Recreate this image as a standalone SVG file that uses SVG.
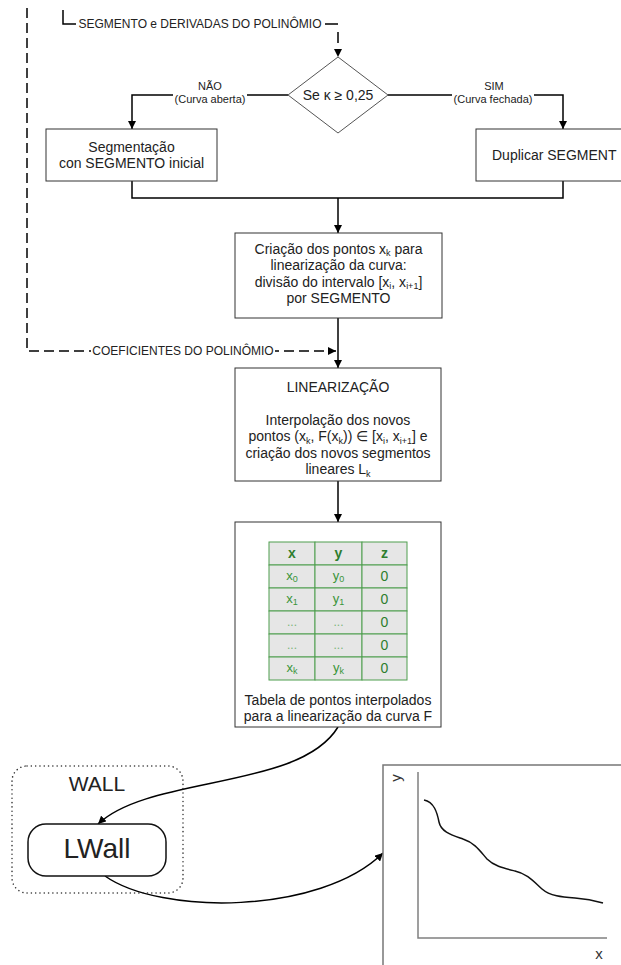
<svg xmlns="http://www.w3.org/2000/svg" width="621" height="965" viewBox="0 0 621 965">
  <style>
    .box { fill: #ffffff; stroke: #333333; stroke-width: 1; }
    .diamond { fill: #ffffff; stroke: #555555; stroke-width: 1; }
    .conn { fill: none; stroke: #000000; stroke-width: 1.5; }
    .dash { fill: none; stroke: #000000; stroke-width: 1.5; stroke-dasharray: 10 5; }
    .bg { fill: #ffffff; stroke: none; }
    text { font-family: "Liberation Sans", Arial, sans-serif; fill: #222222; text-anchor: middle; }
    .t14 { font-size: 14px; }
    .t12 { font-size: 12px; }
    .t11 { font-size: 11px; }
    .sub { font-size: 9px; }
    .cell { fill: #e6e6e6; stroke: #4f9e4f; stroke-width: 1; }
    .th { font-size: 14px; font-weight: bold; fill: #2e7d2e; }
    .td { font-size: 13px; fill: #3a953a; }
    .tz { font-size: 14px; fill: #2e7d2e; }
    .dots { font-size: 12px; fill: #7ab57a; }
    .axis { fill: none; stroke: #808080; stroke-width: 1.5; }
  </style>
  <defs>
    <marker id="arrow" viewBox="0 0 10 10" refX="10" refY="5" markerWidth="8" markerHeight="8" markerUnits="userSpaceOnUse" orient="auto">
      <path d="M0,0 L10,5 L0,10 z" fill="#000000"/>
    </marker>
  </defs>

  <!-- connectors -->
  <g id="connectors">
    <!-- polynomial segment data feeding the decision (long dashes, mostly hidden by the label) -->
    <path class="conn" d="M63,10 V24 H338 V57" stroke-dasharray="27 249 13 8 11 40" marker-end="url(#arrow)"/>
    <rect class="bg" x="77" y="17" width="248" height="14"/>
    <text class="t12" x="200" y="28">SEGMENTO e DERIVADAS DO POLINÔMIO</text>

    <!-- polynomial coefficients feeding the linearization -->
    <path class="dash" d="M27,8 V351 H336" marker-end="url(#arrow)"/>
    <rect class="bg" x="91" y="344" width="184" height="14"/>
    <text class="t12" x="183" y="355">COEFICIENTES DO POLINÔMIO</text>

    <!-- decision branches -->
    <path class="conn" d="M288,95 H132 V129" marker-end="url(#arrow)"/>
    <path class="conn" d="M388,95 H563 V129" marker-end="url(#arrow)"/>
    <rect class="bg" x="173" y="92" width="74" height="14"/>
    <text class="t11" x="210" y="90">NÃO</text>
    <text class="t11" x="210" y="103">(Curva aberta)</text>
    <rect class="bg" x="452" y="92" width="82" height="14"/>
    <text class="t11" x="494" y="90">SIM</text>
    <text class="t11" x="493" y="103">(Curva fechada)</text>

    <!-- merge of both branches -->
    <path class="conn" d="M132,181 V198 H563 V181"/>
    <path class="conn" d="M338,198 V233" marker-end="url(#arrow)"/>
    <path class="conn" d="M338,318 V368" marker-end="url(#arrow)"/>
    <path class="conn" d="M338,481 V522" marker-end="url(#arrow)"/>

    <!-- table to wall element, wall element to plot -->
    <path class="conn" d="M338,727 C300,790 150,775 98,824" marker-end="url(#arrow)"/>
    <path class="conn" d="M105,876 C160,915 320,915 383,853" marker-end="url(#arrow)"/>
  </g>

  <!-- decision -->
  <g id="decisao">
    <polygon class="diamond" points="338,57 388,95 338,133 288,95"/>
    <text class="t14" x="338" y="100">Se κ ≥ 0,25</text>
  </g>

  <g id="segmentacao">
    <rect class="box" x="46" y="129" width="171" height="52"/>
    <text class="t14" x="131.5" y="152">Segmentação</text>
    <text class="t14" x="131.5" y="168">con SEGMENTO inicial</text>
  </g>

  <g id="duplicar">
    <rect class="box" x="476" y="129" width="171" height="52"/>
    <text class="t14" x="492" y="160" style="text-anchor:start">Duplicar SEGMENT</text>
  </g>

  <g id="criacao">
    <rect class="box" x="235" y="233" width="207" height="85"/>
    <text class="t14" x="338.5" y="253.5">Criação dos pontos x<tspan class="sub" dy="2.5">k</tspan><tspan dy="-2.5"> para</tspan></text>
    <text class="t14" x="338.5" y="270">linearização da curva:</text>
    <text class="t14" x="338.5" y="286.5">divisão do intervalo [x<tspan class="sub" dy="2.5">i</tspan><tspan dy="-2.5">, x</tspan><tspan class="sub" dy="2.5">i+1</tspan><tspan dy="-2.5">]</tspan></text>
    <text class="t14" x="338.5" y="303">por SEGMENTO</text>
  </g>

  <g id="linearizacao">
    <rect class="box" x="235" y="368" width="206" height="113"/>
    <text class="t14" x="338" y="392">LINEARIZAÇÃO</text>
    <text class="t14" x="338" y="425">Interpolação dos novos</text>
    <text class="t14" x="338" y="441">pontos (x<tspan class="sub" dy="2.5">k</tspan><tspan dy="-2.5">, F(x</tspan><tspan class="sub" dy="2.5">k</tspan><tspan dy="-2.5">)) ∈ [x</tspan><tspan class="sub" dy="2.5">i</tspan><tspan dy="-2.5">, x</tspan><tspan class="sub" dy="2.5">i+1</tspan><tspan dy="-2.5">] e</tspan></text>
    <text class="t14" x="338" y="458">criação dos novos segmentos</text>
    <text class="t14" x="338" y="474">lineares L<tspan class="sub" dy="2.5">k</tspan></text>
  </g>

  <g id="tabela">
    <rect class="box" x="235" y="522" width="206" height="205"/>
    <g id="tabela-celulas">
      <rect class="cell" x="269" y="542" width="46" height="23"/>
      <rect class="cell" x="315" y="542" width="47" height="23"/>
      <rect class="cell" x="362" y="542" width="45" height="23"/>
      <rect class="cell" x="269" y="565" width="46" height="23"/>
      <rect class="cell" x="315" y="565" width="47" height="23"/>
      <rect class="cell" x="362" y="565" width="45" height="23"/>
      <rect class="cell" x="269" y="588" width="46" height="23"/>
      <rect class="cell" x="315" y="588" width="47" height="23"/>
      <rect class="cell" x="362" y="588" width="45" height="23"/>
      <rect class="cell" x="269" y="611" width="46" height="23"/>
      <rect class="cell" x="315" y="611" width="47" height="23"/>
      <rect class="cell" x="362" y="611" width="45" height="23"/>
      <rect class="cell" x="269" y="634" width="46" height="23"/>
      <rect class="cell" x="315" y="634" width="47" height="23"/>
      <rect class="cell" x="362" y="634" width="45" height="23"/>
      <rect class="cell" x="269" y="657" width="46" height="23"/>
      <rect class="cell" x="315" y="657" width="47" height="23"/>
      <rect class="cell" x="362" y="657" width="45" height="23"/>
    </g>
    <text class="th" x="292" y="558">x</text>
    <text class="th" x="338.5" y="558">y</text>
    <text class="th" x="384.5" y="558">z</text>

    <text class="td" x="292" y="580">x<tspan class="sub" dy="2">0</tspan></text>
    <text class="td" x="338.5" y="580">y<tspan class="sub" dy="2">0</tspan></text>
    <text class="tz" x="384.5" y="581">0</text>

    <text class="td" x="292" y="603">x<tspan class="sub" dy="2">1</tspan></text>
    <text class="td" x="338.5" y="603">y<tspan class="sub" dy="2">1</tspan></text>
    <text class="tz" x="384.5" y="604">0</text>

    <text class="dots" x="292" y="626">...</text>
    <text class="dots" x="338.5" y="626">...</text>
    <text class="tz" x="384.5" y="627">0</text>

    <text class="dots" x="292" y="649">...</text>
    <text class="dots" x="338.5" y="649">...</text>
    <text class="tz" x="384.5" y="650">0</text>

    <text class="td" x="292" y="672">x<tspan class="sub" dy="2">k</tspan></text>
    <text class="td" x="338.5" y="672">y<tspan class="sub" dy="2">k</tspan></text>
    <text class="tz" x="384.5" y="673">0</text>

    <text class="t14" x="338" y="705">Tabela de pontos interpolados</text>
    <text class="t14" x="338" y="721">para a linearização da curva F</text>
  </g>

  <g id="wall">
    <rect x="12" y="766" width="171" height="127" rx="15" ry="15" fill="none" stroke="#333333" stroke-width="1.5" stroke-dasharray="0.1 4.2" stroke-linecap="round"/>
    <text x="97" y="791" style="font-size:21px">WALL</text>
  </g>

  <g id="lwall">
    <rect x="28" y="824" width="138" height="52" rx="18" ry="18" fill="#ffffff" stroke="#111111" stroke-width="1.5"/>
    <text x="97" y="858" style="font-size:28px">LWall</text>
  </g>

  <g id="grafico">
    <rect x="383" y="765" width="270" height="220" fill="#ffffff" stroke="#777777" stroke-width="1.5"/>
    <path class="axis" d="M418,772 V938 H607"/>
    <text x="0" y="0" transform="translate(401,778) rotate(-90)" style="font-size:15px;fill:#333333">y</text>
    <text x="599" y="959" style="font-size:15px;fill:#333333">x</text>
    <path fill="none" stroke="#111111" stroke-width="1.5" d="M424,800 C434,802 437,812 439,822 C441,832 452,835 463,839 C475,843 480,851 487,859 C494,866 503,868 515,871 C528,874 534,882 542,889 C550,896 562,897 575,898 C588,899 596,901 603,903"/>
  </g>
</svg>
